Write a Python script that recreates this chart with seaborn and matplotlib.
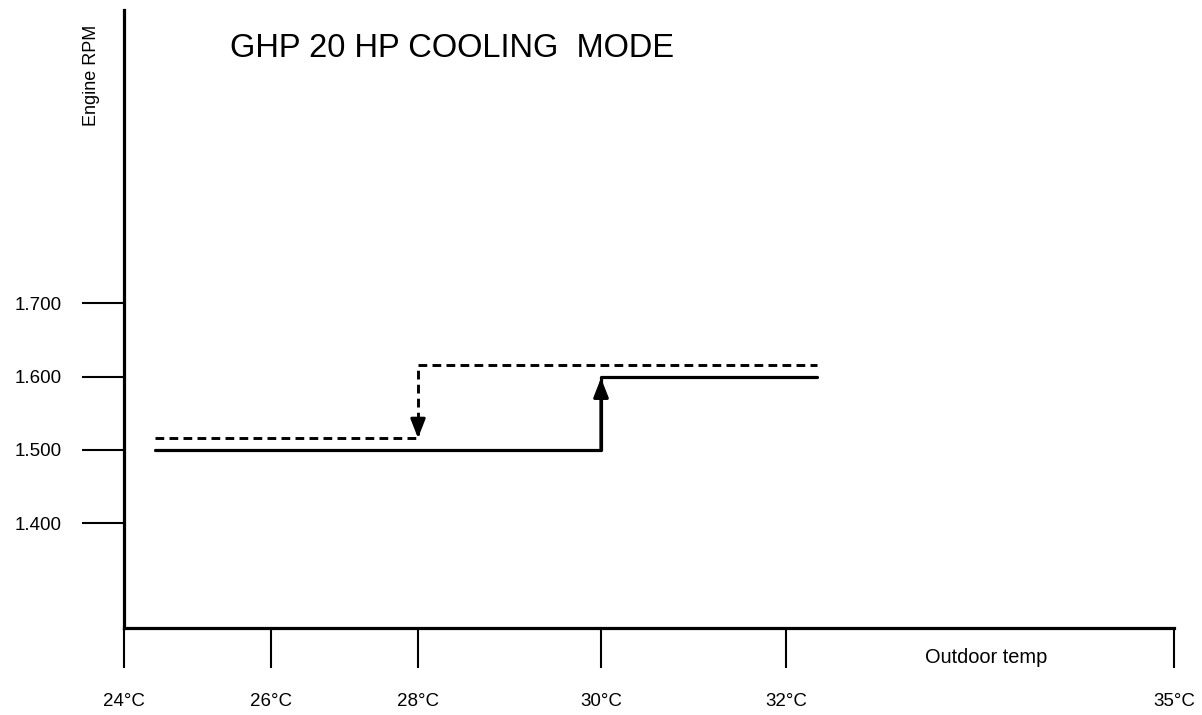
import numpy as np
import pandas as pd
import matplotlib
matplotlib.use("Agg")
import matplotlib.pyplot as plt
import seaborn as sns

# Outdoor temperature tick values and their place along the axis (uneven spacing)
temp_ticks = [24, 26, 28, 30, 32, 35]
temp_tick_labels = ["24°C", "26°C", "28°C", "30°C", "32°C", "35°C"]
temp_axis_pos = [0, 147, 294, 477, 662, 1050]

# Engine RPM ticks
rpm_ticks = [1400, 1500, 1600, 1700]
rpm_tick_labels = ["1.400", "1.500", "1.600", "1.700"]

# Rising temperature: speed steps up at 30°C (solid)
rise_temp = [24.42, 30.0, 32.24]
rise_rpm = [1500, 1600, 1600]

# Falling temperature: speed steps down at 28°C (dashed, drawn slightly offset)
fall_temp = [24.42, 28.0, 32.24]
fall_rpm = [1516, 1616, 1616]

sns.set_style("white")
plt.rcParams["font.family"] = ["Liberation Sans", "DejaVu Sans"]
plt.rcParams["text.color"] = "black"
plt.rcParams["xtick.color"] = "black"
plt.rcParams["ytick.color"] = "black"

fig = plt.figure(figsize=(12.02, 7.15), dpi=100)
ax = fig.add_axes([124 / 1202, 1 - 628 / 715, (1174 - 124) / 1202, (628 - 10) / 715])

fwd = lambda x: np.interp(x, temp_ticks, temp_axis_pos)
inv = lambda p: np.interp(p, temp_axis_pos, temp_ticks)
ax.set_xscale("function", functions=(fwd, inv))

rise = pd.DataFrame({"temp": rise_temp, "rpm": rise_rpm})
fall = pd.DataFrame({"temp": fall_temp, "rpm": fall_rpm})

sns.lineplot(data=rise, x="temp", y="rpm", ax=ax, color="black", lw=2.3,
             drawstyle="steps-post", estimator=None, sort=False)
sns.lineplot(data=fall, x="temp", y="rpm", ax=ax, color="black", lw=2.1,
             drawstyle="steps-post", estimator=None, sort=False,
             linestyle=(0, (3, 1.8)))

# Arrow heads on the switching edges
head = "-|>,head_length=1.15,head_width=0.45"
ax.annotate("", xy=(rise_temp[1], rise_rpm[1] - 2), xytext=(rise_temp[1], rise_rpm[0]),
            arrowprops=dict(arrowstyle=head, color="black", lw=2.3,
                            shrinkA=0, shrinkB=0))
ax.annotate("", xy=(fall_temp[1], fall_rpm[0]), xytext=(fall_temp[1], fall_rpm[0] + 24),
            arrowprops=dict(arrowstyle=head, color="black", lw=2.1,
                            shrinkA=0, shrinkB=0))

ax.set_xlim(24, 35)
ax.set_ylim(1257, 2100)

ax.set_xticks(temp_ticks)
ax.set_xticklabels(temp_tick_labels)
ax.set_yticks(rpm_ticks)
ax.set_yticklabels(rpm_tick_labels)
ax.minorticks_off()
ax.tick_params(axis="x", bottom=True, direction="out", length=29, width=1.5,
               pad=18, labelsize=13.5, color="black", labelcolor="black")
ax.tick_params(axis="y", left=True, direction="out", length=30, width=1.5,
               pad=15, labelsize=13.5, color="black", labelcolor="black")

for side in ("top", "right"):
    ax.spines[side].set_visible(False)
for side in ("left", "bottom"):
    ax.spines[side].set_color("black")
    ax.spines[side].set_linewidth(2.3)

ax.set_xlabel("")
ax.set_ylabel("")

ax.text(0.821, -0.0485, "Outdoor temp", transform=ax.transAxes, fontsize=14.4,
        ha="center", va="center")
ax.text(-0.031, 0.895, "Engine RPM", transform=ax.transAxes, fontsize=13,
        ha="center", va="center", rotation=90)
ax.text(0.101, 0.938, "GHP 20 HP COOLING  MODE", transform=ax.transAxes,
        fontsize=23.5, ha="left", va="center")

fig.savefig("out.png", dpi=100)
